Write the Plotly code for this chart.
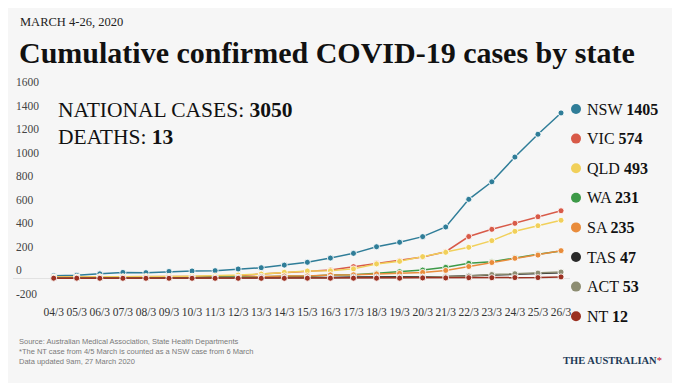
import plotly.graph_objects as go

# ---------------- data ----------------
dates = ["04/3", "05/3", "06/3", "07/3", "08/3", "09/3", "10/3", "11/3", "12/3", "13/3",
         "14/3", "15/3", "16/3", "17/3", "18/3", "19/3", "20/3", "21/3", "22/3", "23/3",
         "24/3", "25/3", "26/3"]

states = ["NSW", "VIC", "QLD", "WA", "SA", "TAS", "ACT", "NT"]
totals = [1405, 574, 493, 231, 235, 47, 53, 12]

nsw = [22, 25, 38, 50, 48, 58, 62, 65, 79, 90, 112, 136, 172, 212, 268, 306, 354, 436, 671, 820, 1030, 1224, 1405]
vic = [10, 10, 11, 11, 11, 15, 15, 17, 21, 36, 49, 57, 71, 99, 127, 150, 180, 226, 355, 416, 467, 523, 574]
qld = [11, 11, 13, 13, 15, 15, 18, 20, 27, 36, 51, 62, 64, 80, 122, 144, 184, 221, 263, 320, 399, 447, 493]
wa = [2, 2, 3, 3, 3, 4, 4, 9, 9, 14, 17, 18, 28, 31, 42, 56, 70, 93, 127, 140, 175, 205, 231]
sa = [2, 2, 2, 4, 7, 7, 7, 7, 7, 13, 20, 20, 29, 30, 37, 42, 50, 67, 100, 134, 170, 197, 235]
tas = [1, 1, 1, 1, 2, 2, 2, 3, 5, 6, 6, 7, 7, 10, 10, 10, 11, 16, 22, 28, 36, 42, 47]
act = [0, 0, 0, 0, 0, 0, 0, 0, 1, 1, 1, 1, 2, 2, 3, 6, 9, 11, 19, 32, 39, 44, 53]
nt = [1, 1, 0, 0, 0, 0, 0, 0, 0, 0, 0, 1, 1, 1, 1, 1, 3, 3, 5, 5, 6, 6, 12]

series = [nsw, vic, qld, wa, sa, tas, act, nt]
colors = ["#2f7d98", "#d85a48", "#f1d05a", "#3d9a48", "#e98c3b", "#2a2a2a", "#8d8d72", "#9b3122"]

y_ticks = [-200, 0, 200, 400, 600, 800, 1000, 1200, 1400, 1600]
national_cases = 3050
deaths = 13

# ---------------- layout geometry ----------------
# positions below are in screenshot pixels; the page body adds an 8px offset
W, H = 680, 383
OFF = 8
PL, PR, PT, PB = 13, 570, 75, 303          # plot box in screenshot pixels
PW = PR - PL
PH = PB - PT
BG = "#f6f6f6"
SERIF = "Liberation Serif"


def px(x):
    return (x - PL) / PW


def py(y):
    return (PB - y) / PH


fig = go.Figure()
for name, vals, col in zip(states, series, colors):
    fig.add_trace(go.Scatter(
        x=dates, y=vals, name=name, mode="lines+markers",
        line=dict(color=col, width=1.5),
        marker=dict(color=col, size=6, line=dict(color="rgba(255,255,255,0.85)", width=1)),
        showlegend=False, hoverinfo="x+y+name",
    ))

annotations = [
    dict(text="MARCH 4-26, 2020", x=px(18), y=py(22), xref="paper", yref="paper",
         xanchor="left", yanchor="middle", showarrow=False,
         font=dict(family=SERIF, size=12.5, color="#222")),
    dict(text="<b>Cumulative confirmed COVID-19 cases by state</b>", x=px(17), y=py(52),
         xref="paper", yref="paper", xanchor="left", yanchor="middle", showarrow=False,
         font=dict(family=SERIF, size=30, color="#111")),
    dict(text=f"NATIONAL CASES: <b>{national_cases}</b>", x=px(56), y=py(110), xref="paper",
         yref="paper", xanchor="left", yanchor="middle", showarrow=False,
         font=dict(family=SERIF, size=21.5, color="#111")),
    dict(text=f"DEATHS: <b>{deaths}</b>", x=px(56), y=py(137), xref="paper",
         yref="paper", xanchor="left", yanchor="middle", showarrow=False,
         font=dict(family=SERIF, size=21.5, color="#111")),
    dict(text="Source: Australian Medical Association, State Health Departments<br>"
              "*The NT case from 4/5 March is counted as a NSW case from 6 March<br>"
              "Data updated 9am, 27 March 2020",
         x=px(17), y=py(335), xref="paper", yref="paper", xanchor="left", yanchor="top",
         align="left", showarrow=False,
         font=dict(family="Liberation Sans", size=7.5, color="#7a7a7a")),
    dict(text="<b>THE AUSTRALIAN</b><span style='color:#c8102e'>*</span>", x=px(561), y=py(360),
         xref="paper", yref="paper", xanchor="left", yanchor="middle", showarrow=False,
         font=dict(family=SERIF, size=10.5, color="#1d3a57")),
]

shapes = []
legend_top, legend_step = 109, 29.6
for i, (name, tot, col) in enumerate(zip(states, totals, colors)):
    yy = legend_top + i * legend_step
    shapes.append(dict(type="circle", xref="paper", yref="paper",
                       xsizemode="pixel", ysizemode="pixel",
                       xanchor=px(576), yanchor=py(yy), x0=-5, x1=5, y0=-5, y1=5,
                       fillcolor=col, line=dict(width=0)))
    annotations.append(dict(text=f"{name} <b>{tot}</b>", x=px(585), y=py(yy), xref="paper",
                            yref="paper", xanchor="left", yanchor="middle", showarrow=False,
                            font=dict(family=SERIF, size=16, color="#111")))

y_top = (278.3 - PT) / 0.1177
y_bot = -(PB - 278.3) / 0.1177
x_lo = -(53.7 - PL) / 23.06
x_hi = x_lo + PW / 23.06

fig.update_layout(
    width=W, height=H,
    margin=dict(l=PL - OFF, r=W - (PR - OFF), t=PT - OFF, b=H - (PB - OFF)),
    paper_bgcolor=BG, plot_bgcolor=BG,
    annotations=annotations, shapes=shapes,
    xaxis=dict(type="category", range=[x_lo, x_hi], showgrid=False, zeroline=False,
               showline=False, ticks="", tickangle=0, automargin=False,
               tickfont=dict(family=SERIF, size=11.5, color="#333"),
               fixedrange=True),
    yaxis=dict(range=[y_bot, y_top], tickvals=y_ticks, ticktext=[str(v) for v in y_ticks],
               showgrid=False, zeroline=True, zerolinecolor="#e2e2e2", zerolinewidth=1,
               showline=False, ticks="", ticklabelposition="inside top", automargin=False,
               tickfont=dict(family=SERIF, size=11.5, color="#444"), fixedrange=True),
)

fig.write_html("out.html")
